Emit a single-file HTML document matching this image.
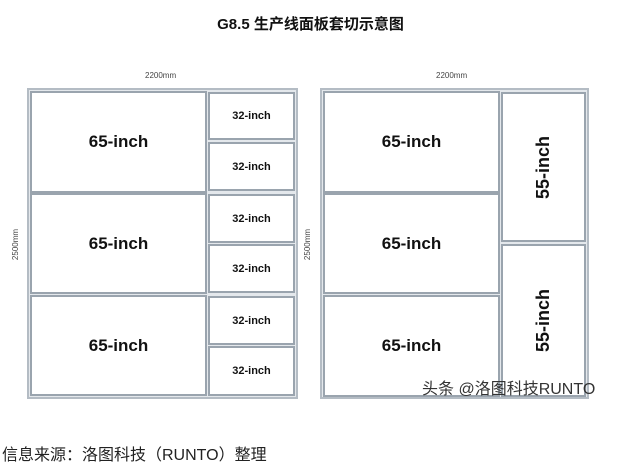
<!DOCTYPE html>
<html><head><meta charset="utf-8"><style>
body{margin:0;width:621px;height:473px;background:#fff;position:relative;overflow:hidden;font-family:"Liberation Sans","Noto Sans CJK SC",sans-serif}
.a{position:absolute}
.o{position:absolute;border:2px solid #b4bcc4;background:#e4e8ec;box-sizing:border-box}
.b{position:absolute;border:2px solid #9aa4ae;background:#fff;box-sizing:border-box;display:flex;align-items:center;justify-content:center;font-weight:bold;color:#111}
.big{font-size:17px}
.sm{font-size:11px}
.v span{transform:rotate(-90deg);white-space:nowrap;display:block;font-size:18px}
.dim{font-size:8px;color:#444}
</style></head><body>
<div class="a" style="left:0;width:621px;top:13px;text-align:center;font-weight:bold;font-size:15px;color:#111">G8.5 生产线面板套切示意图</div>

<div class="a dim" style="left:145px;top:71px">2200mm</div>
<div class="a dim" style="left:436px;top:71px">2200mm</div>
<div class="a dim" style="left:0px;top:240px;transform:rotate(-90deg);transform-origin:center">2500mm</div>
<div class="a dim" style="left:292px;top:240px;transform:rotate(-90deg)">2500mm</div>

<div class="o" style="left:27px;top:88px;width:271px;height:311px"></div>
<div class="b big" style="left:30px;top:91px;width:177px;height:102px">65-inch</div>
<div class="b big" style="left:30px;top:193px;width:177px;height:101px">65-inch</div>
<div class="b big" style="left:30px;top:295px;width:177px;height:101px">65-inch</div>
<div class="b sm" style="left:208px;top:92px;width:87px;height:48px">32-inch</div>
<div class="b sm" style="left:208px;top:142px;width:87px;height:49px">32-inch</div>
<div class="b sm" style="left:208px;top:194px;width:87px;height:49px">32-inch</div>
<div class="b sm" style="left:208px;top:244px;width:87px;height:49px">32-inch</div>
<div class="b sm" style="left:208px;top:296px;width:87px;height:49px">32-inch</div>
<div class="b sm" style="left:208px;top:346px;width:87px;height:50px">32-inch</div>

<div class="o" style="left:320px;top:88px;width:269px;height:311px"></div>
<div class="b big" style="left:323px;top:91px;width:177px;height:102px">65-inch</div>
<div class="b big" style="left:323px;top:193px;width:177px;height:101px">65-inch</div>
<div class="b big" style="left:323px;top:295px;width:177px;height:102px">65-inch</div>
<div class="b big v" style="left:501px;top:92px;width:85px;height:150px"><span>55-inch</span></div>
<div class="b big v" style="left:501px;top:244px;width:85px;height:153px"><span>55-inch</span></div>

<div class="a" style="left:422px;top:375px;font-size:16px;color:#333">头条 @洛图科技RUNTO</div>
<div class="a" style="left:2px;top:441px;font-size:16px;color:#222">信息来源：洛图科技（RUNTO）整理</div>
</body></html>
